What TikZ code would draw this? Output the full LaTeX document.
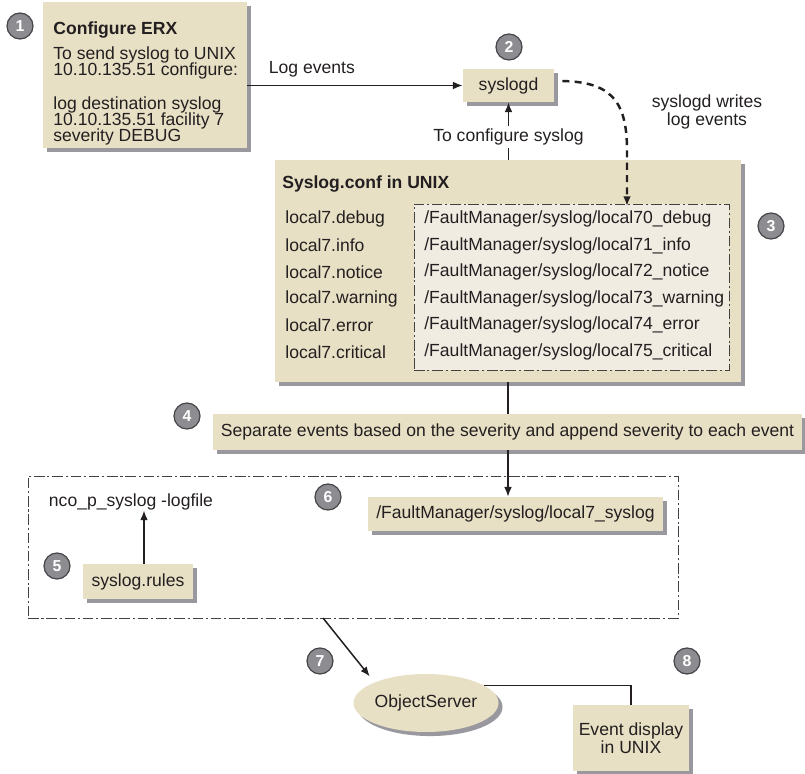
\documentclass[tikz,border=0pt]{standalone}
\usepackage{fontspec}
\setmainfont{Liberation Sans}
\usepackage{tikz}
\usetikzlibrary{shapes,arrows.meta,shadows}
\usetikzlibrary{positioning}
\lineskiplimit=-20pt
\definecolor{boxtan}{RGB}{232,224,197}
\definecolor{paper}{RGB}{241,236,226}
\definecolor{shade}{RGB}{152,152,158}
\definecolor{ink}{RGB}{35,31,32}
\definecolor{badgefill}{RGB}{140,140,145}
\definecolor{badgeedge}{RGB}{70,70,74}
\tikzset{>={Latex[length=5.5pt, width=4.4pt]}, font=\fontsize{10}{8.9}\selectfont}
\tikzstyle{block} = [rectangle, fill=boxtan, inner sep=0pt, text centered, align=center, drop shadow={shadow xshift=2.3pt, shadow yshift=-2.3pt, fill=shade, opacity=1}]
\tikzstyle{oval} = [ellipse, fill=boxtan, inner sep=0pt, drop shadow={shadow xshift=2.3pt, shadow yshift=-2.3pt, fill=shade, opacity=1}]
\tikzstyle{badge} = [circle, draw=badgeedge, line width=0.7pt, fill=badgefill, minimum size=0.52cm, inner sep=0pt, text=white, font=\fontsize{9}{9}\selectfont\bfseries]
\tikzstyle{dashdot} = [draw=ink!85, line width=0.5pt, dash pattern=on 6pt off 1.6pt on 1.2pt off 1.6pt]
\tikzstyle{plain} = [inner sep=0pt]
\tikzstyle{title} = [font=\fontsize{10}{8.9}\selectfont\bfseries]
\tikzstyle{wire} = [draw=ink, line width=0.85pt]

\begin{document}
\begin{tikzpicture}[x=0.02cm, y=-0.02cm, every node/.append style={text=ink}]
	\useasboundingbox (0,0) rectangle (805,774);

	% frames
	\node [dashdot, minimum width=13cm, minimum height=2.84cm] (group) at (353,547) {};
	\node [block, minimum width=4.08cm, minimum height=2.92cm] (erx) at (145,75) {};
	\node [plain, align=left, anchor=north west, font=\fontsize{10}{9.1}\selectfont] (erxtext) at (53,21) {\textbf{Configure ERX}\\[5.1pt] To send syslog to UNIX\\ 10.10.135.51 configure:\\[10.8pt] log destination syslog\\ 10.10.135.51 facility 7\\ severity DEBUG};
	\node [block, minimum width=1.82cm, minimum height=0.66cm] (syslogd) at (508.5,85.5) {syslogd};
	\node [block, minimum width=9.32cm, minimum height=4.44cm] (conf) at (508,271) {};
	\node [plain, title, anchor=west] (conftitle) at (282,184) {Syslog.conf in UNIX};
	\node [dashdot, fill=paper, minimum width=6.3cm, minimum height=3.32cm] (paths) at (571.5,287) {};
	\foreach \lvl/\file [count=\i] in {debug/local70\_debug, info/local71\_info, notice/local72\_notice, warning/local73\_warning, error/local74\_error, critical/local75\_critical} {
		\node [plain, anchor=west] (lvl\i) at (285,{192.4+26.6*\i}) {local7.\lvl};
		\node [plain, anchor=west] (file\i) at (424,{192.4+26.6*\i}) {/FaultManager/syslog/\file};
	}
	\node [block, minimum width=11.78cm, minimum height=0.72cm] (sep) at (507.5,432) {Separate events based on the severity and append severity to each event};
	\node [block, minimum height=0.68cm, inner xsep=0.16cm, anchor=east] (local7) at (663,514) {/FaultManager/syslog/local7\_syslog};
	\node [plain] (nco) at (131,502) {nco\_p\_syslog -logfile};
	\node [block, minimum width=2.2cm, minimum height=0.7cm] (rules) at (138,581.5) {syslog.rules};
	\node [oval, minimum width=2.8cm, minimum height=1.16cm] (objsrv) at (426,703) {ObjectServer};
	\node [block, minimum width=2.32cm, minimum height=1.32cm] (display) at (631,738) {Event display\\[1.4pt]in UNIX};
	\node [plain, align=center] (writes) at (707,112) {syslogd writes\\[1pt]log events};

	% step numbers
	\foreach \n/\x/\y in {1/20/26, 2/509/47, 3/771/226, 4/187/416, 5/57/566, 6/328/497, 7/320/661, 8/687/661}
		\node [badge] (step\n) at (\x,\y) {\n};

	\coordinate (wtip) at (627,206);
	\coordinate (gout) at (323,618);

	% connectors
	\draw [wire, ->] (erx.east |- syslogd) -- node [pos=0.3, above=1pt] {Log events} (syslogd);
	\draw [wire, ->] (conf.north -| syslogd) -- node [pos=0.4, fill=white, inner sep=1.5pt] {To configure syslog} (syslogd.south);
	\draw [wire, line width=1.4pt, dash pattern=on 4pt off 3pt, ->] ([xshift=0.16cm, yshift=0.09cm]syslogd.east) .. controls (610,82) and (627,100) .. (627,150) -- (wtip);
	\draw [wire] (conf.south) -- (sep.north -| conf.south);
	\draw [wire, ->] (sep.south -| conf.south) -- (local7.north -| conf.south);
	\draw [wire, ->] ([xshift=0.12cm]rules.north) -- ([xshift=0.12cm]rules.north |- nco.south);
	\draw [wire, ->, shorten >=0.15cm] (gout) -- (objsrv.north west);
	\draw [wire] (objsrv.17) -| (display.north);
\end{tikzpicture}
\end{document}
